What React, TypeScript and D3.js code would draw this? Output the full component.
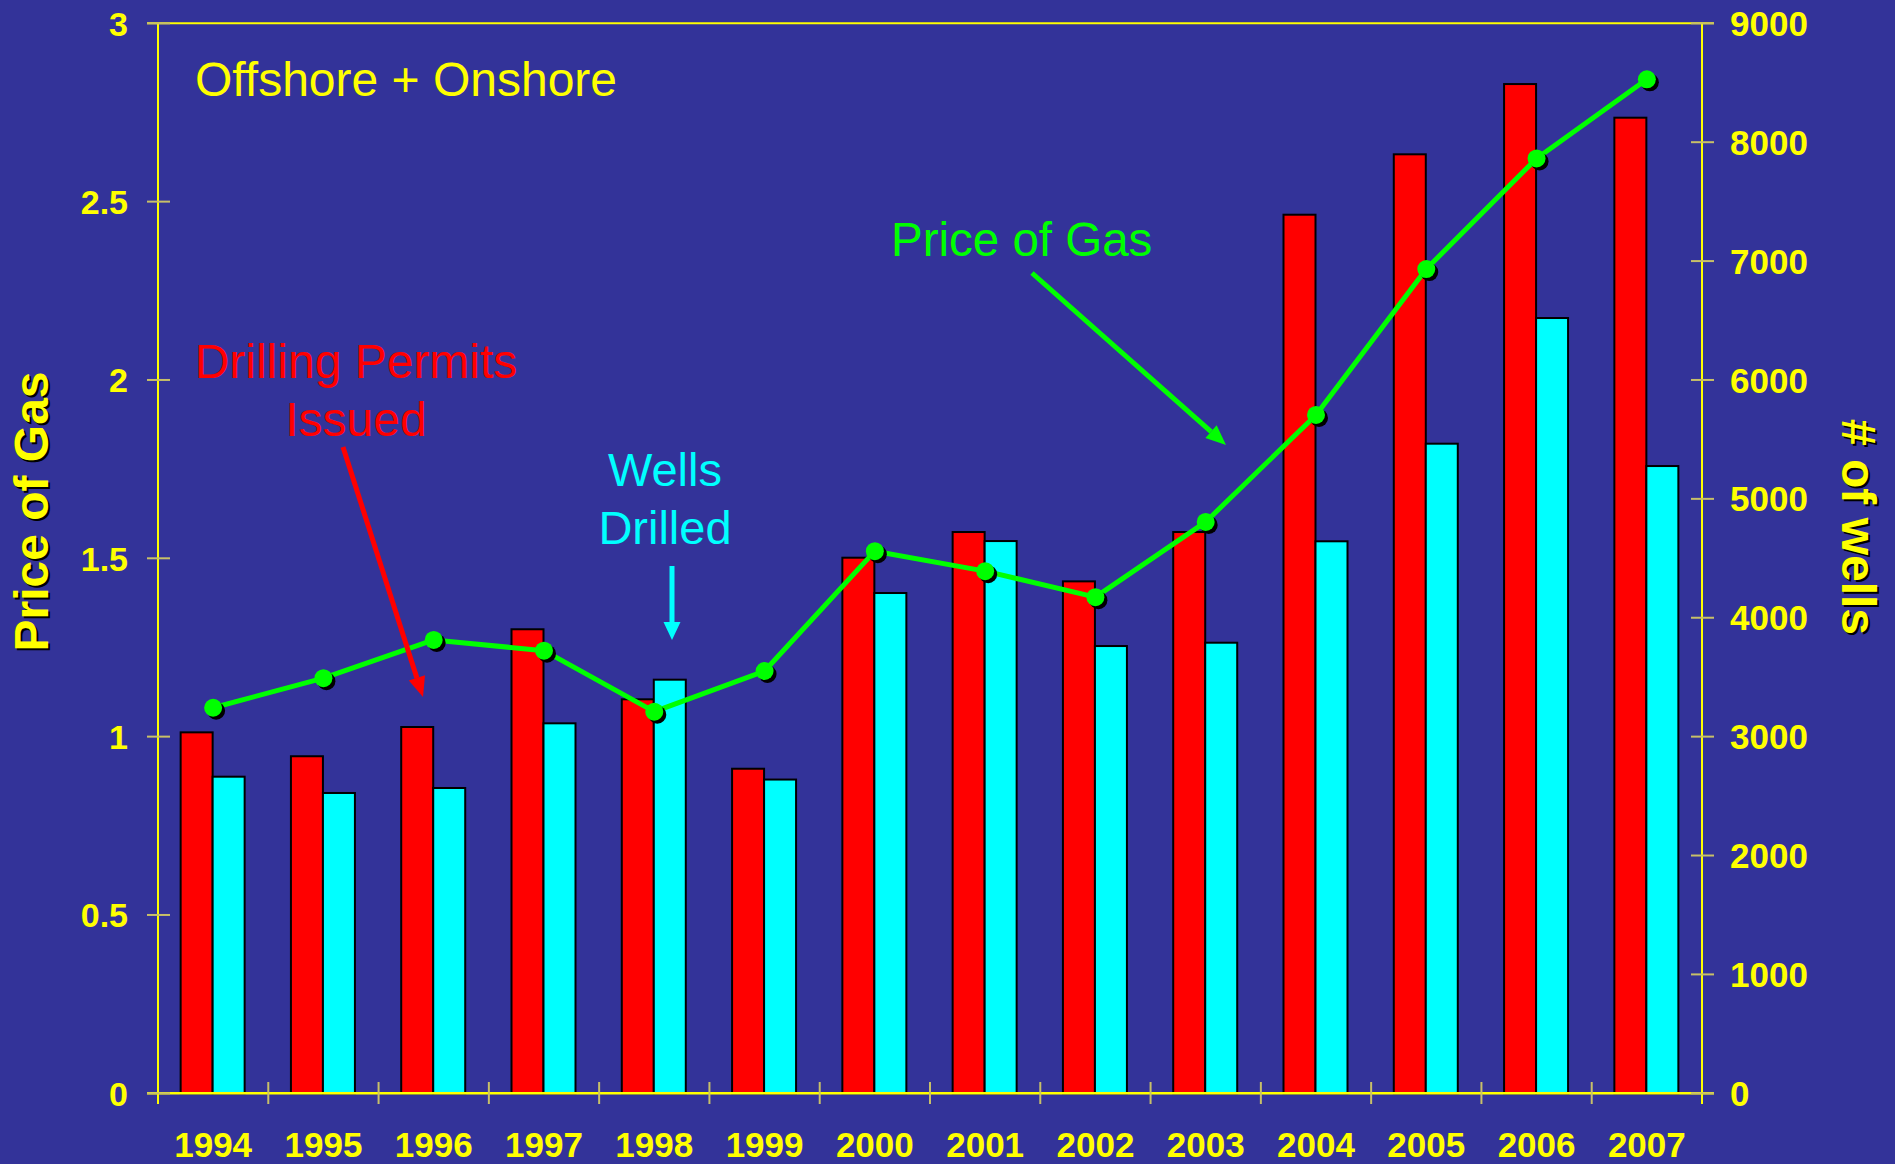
import React from "react";
import * as d3 from "d3";

const years = ["1994","1995","1996","1997","1998","1999","2000","2001","2002","2003","2004","2005","2006","2007"];
const permits = [3036, 2835, 3081, 3903, 3314, 2730, 4505, 4721, 4306, 4721, 7390, 7898, 8489, 8206];
const wells = [2663, 2526, 2568, 3112, 3479, 2639, 4208, 4645, 3762, 3790, 4643, 5464, 6521, 5276];
const price = [1.081, 1.164, 1.271, 1.241, 1.070, 1.184, 1.520, 1.464, 1.391, 1.602, 1.902, 2.311, 2.621, 2.843];
const leftTicks = [0, 0.5, 1, 1.5, 2, 2.5, 3];
const rightTicks = [0, 1000, 2000, 3000, 4000, 5000, 6000, 7000, 8000, 9000];

const W = 1895, H = 1164;
const L = 158, R = 1702, T = 23.3, B = 1093.3;
const FONT = "'Liberation Sans', Arial, Helvetica, sans-serif";
const BG = "#333399";
const YEL = "#ffff00";
const TICK = "#c8c068";

function Arrow({ x1, y1, x2, y2, color, w = 5, hl = 20, hw = 17 }: any) {
  const ang = Math.atan2(y2 - y1, x2 - x1);
  const bx = x2 - hl * Math.cos(ang), by = y2 - hl * Math.sin(ang);
  const px = -Math.sin(ang) * hw / 2, py = Math.cos(ang) * hw / 2;
  return (
    <g>
      <line x1={x1} y1={y1} x2={bx} y2={by} stroke={color} strokeWidth={w} />
      <polygon points={`${x2},${y2} ${bx + px},${by + py} ${bx - px},${by - py}`} fill={color} />
    </g>
  );
}

export default function App() {
  const x = d3.scaleBand<string>().domain(years).range([L, R]).paddingInner(0).paddingOuter(0);
  const sub = d3.scaleBand<string>().domain(["p", "w"]).range([-32.5, 31.5]).padding(0);
  const yL = d3.scaleLinear().domain([0, 3]).range([B, T]);
  const yR = d3.scaleLinear().domain([0, 9000]).range([B, T]);
  const cx = (i: number) => (x(years[i]) as number) + x.bandwidth() / 2;
  const line = d3.line<number>().x((_, i) => cx(i)).y((d) => yL(d));
  const bw = sub.bandwidth();

  return (
    <svg width={W} height={H} style={{ position: "absolute", left: 0, top: 0, display: "block" }} fontFamily={FONT}>
      <rect x={0} y={0} width={W} height={H} fill={BG} />

      {/* bars */}
      {years.map((yr, i) => (
        <g key={yr}>
          <rect x={cx(i) + (sub("p") as number)} y={yR(permits[i])} width={bw} height={B - yR(permits[i])}
            fill="#ff0000" stroke="#000" strokeWidth={2} />
          <rect x={cx(i) + (sub("w") as number)} y={yR(wells[i])} width={bw} height={B - yR(wells[i])}
            fill="#00ffff" stroke="#000" strokeWidth={2} />
        </g>
      ))}

      {/* frame */}
      <line x1={147} y1={T} x2={1714} y2={T} stroke={YEL} strokeWidth={2} />
      <line x1={147} y1={B} x2={1714} y2={B} stroke={YEL} strokeWidth={2.5} />
      <line x1={L} y1={T} x2={L} y2={1104} stroke={YEL} strokeWidth={2} />
      <line x1={R} y1={T} x2={R} y2={1104} stroke={YEL} strokeWidth={2} />

      {/* left ticks */}
      {leftTicks.map((t) => (
        <g key={"l" + t}>
          <line x1={147} x2={170} y1={yL(t)} y2={yL(t)} stroke={TICK} strokeWidth={2} />
          <text x={128} y={yL(t)} dy="0.36em" textAnchor="end" fill={YEL} fontWeight="bold" fontSize={34}>{t}</text>
        </g>
      ))}
      {/* right ticks */}
      {rightTicks.map((t) => (
        <g key={"r" + t}>
          <line x1={1691} x2={1714} y1={yR(t)} y2={yR(t)} stroke={TICK} strokeWidth={2} />
          <text x={1730} y={yR(t)} dy="0.36em" textAnchor="start" fill={YEL} fontWeight="bold" fontSize={35}>{t}</text>
        </g>
      ))}
      {/* category ticks */}
      {years.slice(1).map((yr) => (
        <line key={"c" + yr} x1={x(yr)} x2={x(yr)} y1={1082} y2={1104} stroke={TICK} strokeWidth={2} />
      ))}
      {years.map((yr, i) => (
        <text key={"x" + yr} x={cx(i)} y={1157} textAnchor="middle" fill={YEL} fontWeight="bold" fontSize={35}>{yr}</text>
      ))}

      {/* price line */}
      <path d={line(price) as string} fill="none" stroke="#00ff00" strokeWidth={5} strokeLinejoin="round" />
      {price.map((p, i) => (
        <circle key={"s" + i} cx={cx(i) + 3} cy={yL(p) + 3} r={9} fill="#000" />
      ))}
      {price.map((p, i) => (
        <circle key={"m" + i} cx={cx(i)} cy={yL(p)} r={9} fill="#00ff00" />
      ))}

      {/* axis titles */}
      <g transform="translate(33,513.5) rotate(-90)">
        <text x={0} y={0} textAnchor="middle" dy="0.36em" fill="#000" fontWeight="bold" fontSize={48}>Price of Gas</text>
      </g>
      <g transform="translate(31,511.5) rotate(-90)">
        <text x={0} y={0} textAnchor="middle" dy="0.36em" fill={YEL} fontWeight="bold" fontSize={48}>Price of Gas</text>
      </g>
      <g transform="translate(1861,529) rotate(90)">
        <text x={0} y={0} textAnchor="middle" dy="0.36em" fill="#000" fontWeight="bold" fontSize={48}># of wells</text>
      </g>
      <g transform="translate(1859,527) rotate(90)">
        <text x={0} y={0} textAnchor="middle" dy="0.36em" fill={YEL} fontWeight="bold" fontSize={48}># of wells</text>
      </g>

      {/* annotations */}
      <text x={195} y={96} fill={YEL} fontSize={48}>Offshore + Onshore</text>

      <text x={356} y={378} textAnchor="middle" fill="#ff0000" fontSize={48}>Drilling Permits</text>
      <text x={356} y={436} textAnchor="middle" fill="#ff0000" fontSize={48}>Issued</text>
      <Arrow x1={343} y1={447} x2={423} y2={697} color="#ff0000" />

      <text x={665} y={486} textAnchor="middle" fill="#00ffff" fontSize={47}>Wells</text>
      <text x={665} y={544} textAnchor="middle" fill="#00ffff" fontSize={47}>Drilled</text>
      <Arrow x1={672} y1={566} x2={672} y2={640} color="#00ffff" w={5} hl={18} hw={17} />

      <text x={891} y={256} fill="#00ff00" fontSize={47.5}>Price of Gas</text>
      <Arrow x1={1032} y1={273} x2={1226} y2={445} color="#00ff00" />
    </svg>
  );
}
